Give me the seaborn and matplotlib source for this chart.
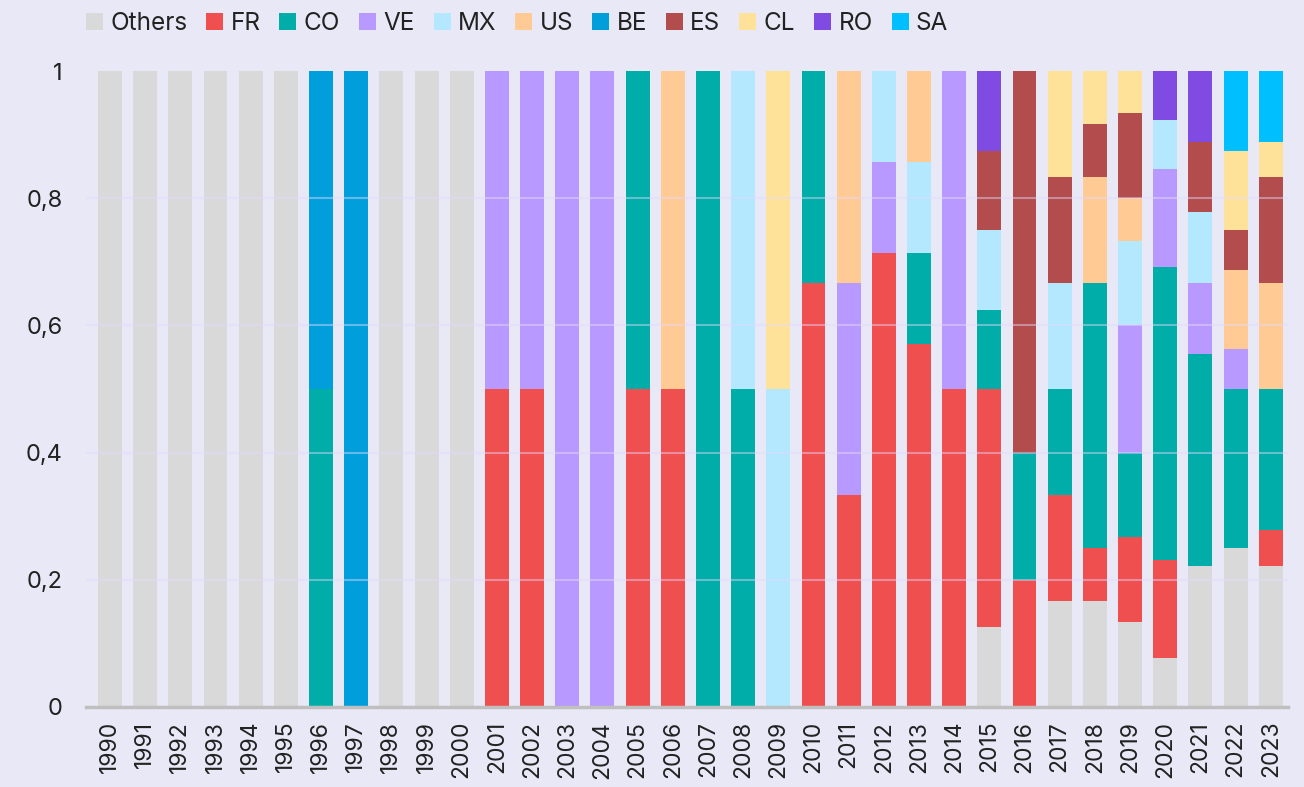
import numpy as np
import pandas as pd
import matplotlib
matplotlib.use("Agg")
import matplotlib.pyplot as plt
import seaborn as sns
from matplotlib.patches import Patch

years = list(range(1990, 2024))
categories = ["Others", "FR", "CO", "VE", "MX", "US", "BE", "ES", "CL", "RO", "SA"]
colors = ["#D9D9D9", "#F04F4F", "#00ADA8", "#B899FF", "#B3E8FF", "#FFCA94",
          "#009FDB", "#B34D4D", "#FFE299", "#7F4BE3", "#00BFFF"]

Others = [1, 1, 1, 1, 1, 1, 0, 0, 1, 1, 1, 0, 0, 0, 0, 0, 0, 0, 0, 0, 0, 0, 0, 0, 0,
          1/8, 0, 1/6, 1/6, 2/15, 1/13, 2/9, 4/16, 4/18]
FR = [0, 0, 0, 0, 0, 0, 0, 0, 0, 0, 0, 0.5, 0.5, 0, 0, 0.5, 0.5, 0, 0, 0, 2/3, 1/3, 5/7, 4/7, 0.5,
      3/8, 0.2, 1/6, 1/12, 2/15, 2/13, 0, 0, 1/18]
CO = [0, 0, 0, 0, 0, 0, 0.5, 0, 0, 0, 0, 0, 0, 0, 0, 0.5, 0, 1, 0.5, 0, 1/3, 0, 0, 1/7, 0,
      1/8, 0.2, 1/6, 5/12, 2/15, 6/13, 3/9, 4/16, 4/18]
VE = [0, 0, 0, 0, 0, 0, 0, 0, 0, 0, 0, 0.5, 0.5, 1, 1, 0, 0, 0, 0, 0, 0, 1/3, 1/7, 0, 0.5,
      0, 0, 0, 0, 3/15, 2/13, 1/9, 1/16, 0]
MX = [0, 0, 0, 0, 0, 0, 0, 0, 0, 0, 0, 0, 0, 0, 0, 0, 0, 0, 0.5, 0.5, 0, 0, 1/7, 1/7, 0,
      1/8, 0, 1/6, 0, 2/15, 1/13, 1/9, 0, 0]
US = [0, 0, 0, 0, 0, 0, 0, 0, 0, 0, 0, 0, 0, 0, 0, 0, 0.5, 0, 0, 0, 0, 1/3, 0, 1/7, 0,
      0, 0, 0, 1/6, 1/15, 0, 0, 2/16, 3/18]
BE = [0, 0, 0, 0, 0, 0, 0.5, 1, 0, 0, 0, 0, 0, 0, 0, 0, 0, 0, 0, 0, 0, 0, 0, 0, 0,
      0, 0, 0, 0, 0, 0, 0, 0, 0]
ES = [0, 0, 0, 0, 0, 0, 0, 0, 0, 0, 0, 0, 0, 0, 0, 0, 0, 0, 0, 0, 0, 0, 0, 0, 0,
      1/8, 0.6, 1/6, 1/12, 2/15, 0, 1/9, 1/16, 3/18]
CL = [0, 0, 0, 0, 0, 0, 0, 0, 0, 0, 0, 0, 0, 0, 0, 0, 0, 0, 0, 0.5, 0, 0, 0, 0, 0,
      0, 0, 1/6, 1/12, 1/15, 0, 0, 2/16, 1/18]
RO = [0, 0, 0, 0, 0, 0, 0, 0, 0, 0, 0, 0, 0, 0, 0, 0, 0, 0, 0, 0, 0, 0, 0, 0, 0,
      1/8, 0, 0, 0, 0, 1/13, 1/9, 0, 0]
SA = [0, 0, 0, 0, 0, 0, 0, 0, 0, 0, 0, 0, 0, 0, 0, 0, 0, 0, 0, 0, 0, 0, 0, 0, 0,
      0, 0, 0, 0, 0, 0, 0, 2/16, 2/18]

series = [Others, FR, CO, VE, MX, US, BE, ES, CL, RO, SA]
ytick_vals = [0, 0.2, 0.4, 0.6, 0.8, 1]
ytick_labels = ["0", "0,2", "0,4", "0,6", "0,8", "1"]

bg = "#E9E8F6"
sns.set_theme(style="white")
plt.rcParams["font.family"] = ["Inter", "DejaVu Sans"]

fig = plt.figure(figsize=(13.04, 7.87), dpi=100, facecolor=bg)
ax = fig.add_axes([0.066, 0.1017, 0.922, 0.808])
ax.set_facecolor(bg)

df = pd.DataFrame({c: s for c, s in zip(categories, series)}, index=[str(y) for y in years])
cum = df.cumsum(axis=1)

order = [str(y) for y in years]
for i in range(len(categories) - 1, -1, -1):
    cat = categories[i]
    d = pd.DataFrame({"year": order, "val": cum[cat].values})
    sns.barplot(data=d, x="year", y="val", order=order, color=colors[i],
                saturation=1, width=0.68, ax=ax, edgecolor="none", linewidth=0, zorder=2)

for v in ytick_vals[1:-1]:
    ax.axhline(v, color="#E4DAFF", lw=1.5, alpha=0.45, zorder=3)

ax.set_ylim(0, 1)
ax.set_xlim(-0.68, 33.5)
ax.set_yticks(ytick_vals)
ax.set_yticklabels(ytick_labels, fontsize=17, color="#222222")
ax.set_xticks(range(len(years)))
ax.set_xticklabels([str(y) for y in years], rotation=90, fontsize=16.5, color="#222222")
ax.tick_params(axis="both", length=0)
ax.tick_params(axis="x", pad=10)
ax.tick_params(axis="y", pad=17)
ax.set_xlabel("")
ax.set_ylabel("")
for s in ["top", "right", "left"]:
    ax.spines[s].set_visible(False)
ax.spines["bottom"].set_color("#BFBFBF")
ax.spines["bottom"].set_linewidth(2.5)
ax.spines["bottom"].set_zorder(4)

handles = [Patch(facecolor=c, edgecolor="none") for c in colors]
fig.legend(handles, categories, loc="upper left", bbox_to_anchor=(0.049, 1.012),
           ncol=len(categories), frameon=False, fontsize=17.5, handlelength=0.7,
           handleheight=0.7, handletextpad=0.3, columnspacing=0.78, labelcolor="#222222")

fig.savefig("out.png", dpi=100, facecolor=bg)
